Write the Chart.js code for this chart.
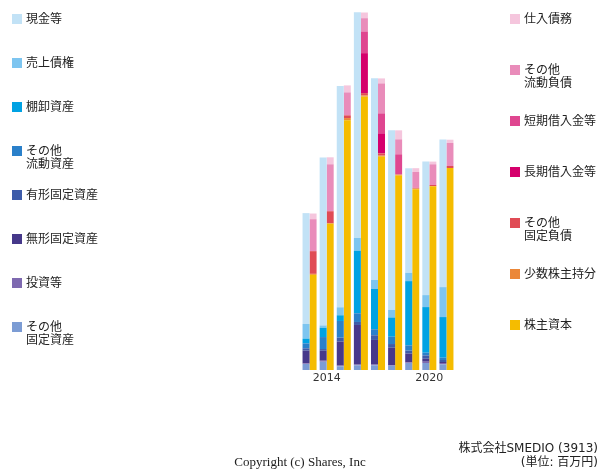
<!DOCTYPE html>
<html>
<head>
<meta charset="utf-8">
<script src="https://cdn.jsdelivr.net/npm/chart.js@4"></script>
<style>
body { margin: 0; background: #fff; }
#wrap { position: relative; width: 600px; height: 470px; font-family: "DejaVu Sans", "Noto Sans CJK JP", sans-serif; color: #222; }
#canvas_bs { position: absolute; left: 0; top: 0; }
.lg { position: absolute; font-size: 12px; line-height: 13px; white-space: nowrap; }
.lg i { position: absolute; width: 10px; height: 10px; left: -14px; top: 1.5px; }
.foot { position: absolute; right: 2px; font-size: 12px; line-height: 14px; text-align: right; }
#copy { position: absolute; left: 0; width: 600px; top: 454px; text-align: center; font-family: "Liberation Serif", serif; font-size: 13px; }
</style>
</head>
<body>
<div id="wrap">
<canvas id="canvas_bs" width="600" height="470"></canvas>
<div id="legendL"></div>
<div id="legendR"></div>
<div class="foot" style="top:441px">株式会社SMEDIO (3913)</div>
<div class="foot" style="top:455px">(単位: 百万円)</div>
<div id="copy">Copyright (c) Shares, Inc</div>
</div>
<script>
// 貸借対照表 (単位: 百万円)
var years = [ "2013", "2014", "2015", "2016", "2017", "2018", "2019", "2020", "2021" ];
var shownYears = [ "2014", "2020" ];

// 資産 (下から)
var sonotaKoteiShisan = [ 60, 83, 37, 47, 47, 43, 70, 70, 57 ];
var toshi = [ 7, 10, 7, 7, 7, 7, 7, 13, 13 ];
var mukei = [ 127, 100, 240, 397, 247, 173, 87, 30, 10 ];
var yukei = [ 23, 17, 40, 30, 47, 37, 30, 33, 20 ];
var sonotaRyudoShisan = [ 50, 120, 167, 87, 60, 73, 53, 27, 23 ];
var tanaoroshi = [ 47, 93, 57, 627, 403, 193, 643, 457, 407 ];
var uriageSaiken = [ 147, 23, 80, 127, 90, 77, 83, 120, 300 ];
var genkin = [ 1110, 1683, 2217, 2260, 2020, 1797, 1047, 1337, 1477 ];

// 負債・純資産 (下から)
var kabunushiShihon = [ 953, 1467, 2500, 2737, 2137, 1947, 1810, 1840, 2023 ];
var shosuKabunushi = [ 10, 0, 23, 13, 10, 10, 7, 0, 0 ];
var sonotaKoteiFusai = [ 227, 123, 27, 23, 23, 0, 7, 13, 20 ];
var chokiKariire = [ 0, 0, 0, 400, 200, 0, 0, 0, 0 ];
var tankiKariire = [ 0, 0, 0, 217, 200, 203, 0, 0, 0 ];
var sonotaRyudoFusai = [ 320, 470, 230, 133, 300, 150, 160, 207, 230 ];
var shiireSaimu = [ 57, 70, 70, 57, 50, 90, 37, 27, 33 ];

var assetSeries = [
	[ "その他\n固定資産", sonotaKoteiShisan, "#7C9CD4" ],
	[ "投資等", toshi, "#7E69B0" ],
	[ "無形固定資産", mukei, "#46388A" ],
	[ "有形固定資産", yukei, "#3D5BA9" ],
	[ "その他\n流動資産", sonotaRyudoShisan, "#2A80CA" ],
	[ "棚卸資産", tanaoroshi, "#00A2E3" ],
	[ "売上債権", uriageSaiken, "#7DC5F0" ],
	[ "現金等", genkin, "#C2E2F6" ] ];

var liabSeries = [
	[ "株主資本", kabunushiShihon, "#F5BC00" ],
	[ "少数株主持分", shosuKabunushi, "#EB8738" ],
	[ "その他\n固定負債", sonotaKoteiFusai, "#E04B55" ],
	[ "長期借入金等", chokiKariire, "#D5006C" ],
	[ "短期借入金等", tankiKariire, "#DF4690" ],
	[ "その他\n流動負債", sonotaRyudoFusai, "#E98CBA" ],
	[ "仕入債務", shiireSaimu, "#F5C6DD" ] ];

function makeDatasets() {
	var ds = [];
	assetSeries.forEach(function(s) {
		ds.push({ label : s[0], data : s[1], backgroundColor : s[2], stack : "asset" });
	});
	liabSeries.forEach(function(s) {
		ds.push({ label : s[0], data : s[1], backgroundColor : s[2], stack : "liab" });
	});
	return ds;
}

// legend as html, top of list = top of stack
function makeLegend(id, series, left, firstY, step) {
	var box = document.getElementById(id);
	var items = series.slice().reverse();
	items.forEach(function(s, i) {
		var d = document.createElement("div");
		d.className = "lg";
		d.style.left = left + "px";
		d.style.top = (firstY + i * step - 6.5) + "px";
		d.innerHTML = "<i style='background:" + s[2] + "'></i>" + s[0].replace("\n", "<br>");
		box.appendChild(d);
	});
}

makeLegend("legendL", assetSeries, 26, 19, 44);
makeLegend("legendR", liabSeries, 524, 19, 51);

var bsChart = new Chart(document.getElementById("canvas_bs"), {
	type : 'bar',
	data : {
		labels : years,
		datasets : makeDatasets()
	},
	options : {
		responsive : false,
		animation : false,
		layout : { padding : { left : 301, right : 145, top : 12, bottom : 0 } },
		datasets : { bar : { categoryPercentage : 0.82, barPercentage : 1.0, borderWidth : 0 } },
		plugins : { legend : { display : false }, tooltip : { enabled : false } },
		scales : {
			x : {
				stacked : true,
				grid : { display : false, drawTicks : false },
				border : { display : false },
				ticks : {
					autoSkip : false,
					maxRotation : 0,
					padding : 2,
					color : "#333",
					font : { family : "DejaVu Sans", size : 11 },
					callback : function(v, i) {
						var y = years[i];
						return shownYears.indexOf(y) >= 0 ? y : "";
					}
				},
				afterFit : function(s) {
					s.height = 100;
				}
			},
			y : {
				stacked : true,
				display : false,
				min : 0,
				max : 3585
			}
		}
	}
});
</script>
</body>
</html>
